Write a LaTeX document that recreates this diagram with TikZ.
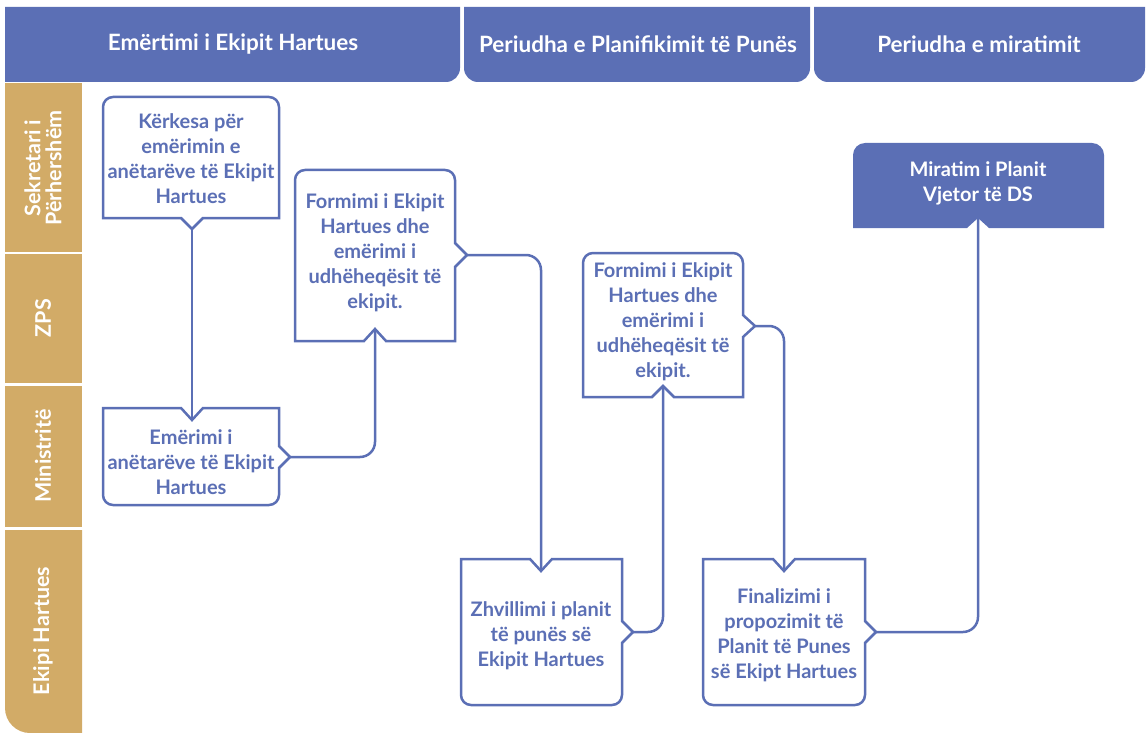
\documentclass[tikz,border=0pt]{standalone}
\usepackage{fontspec}
\setmainfont{Lato}
\definecolor{hblue}{RGB}{91,111,181}
\definecolor{lanetan}{RGB}{210,171,103}
\tikzset{
 hdr/.style={fill=hblue},
 hdrtext/.style={text=white, font=\bfseries\fontsize{22.5}{26}\selectfont},
 lanebox/.style={fill=lanetan},
 lanetext/.style={text=white, font=\bfseries\fontsize{21.5}{21}\selectfont, rotate=90, align=center},
 boxline/.style={draw=hblue, line width=2.5pt, line join=miter, fill=white},
 boxfill/.style={fill=hblue},
 boxtext/.style={text=hblue, font=\bfseries\fontsize{20}{25}\selectfont, align=center},
 boxtextw/.style={text=white, font=\bfseries\fontsize{20}{25}\selectfont, align=center},
 conn/.style={draw=hblue, line width=2.5pt, rounded corners=15pt},
}
\begin{document}
\begin{tikzpicture}[x=1pt,y=-1pt]
\useasboundingbox (0,0) rectangle (1146,733);
% headers
\fill[hdr] (5,7) -- (460,7) -- (460,68) arc[start angle=0,end angle=90,radius=14] -- (5,82) -- cycle;
\fill[hdr] (464,7) -- (810,7) -- (810,68) arc[start angle=0,end angle=90,radius=14] -- (478,82) arc[start angle=90,end angle=180,radius=14] -- cycle;
\fill[hdr] (814,7) -- (1145,7) -- (1145,68) arc[start angle=0,end angle=90,radius=14] -- (828,82) arc[start angle=90,end angle=180,radius=14] -- cycle;
\node[hdrtext] (h1) at (233,44) {Emërtimi i Ekipit Hartues};
\node[hdrtext] (h2) at (638,44) {Periudha e Planifikimit të Punës};
\node[hdrtext] (h3) at (979,44) {Periudha e miratimit};
% lanes
\fill[lanebox] (5,83) rectangle (82,252);
\fill[lanebox] (5,254) rectangle (82,383);
\fill[lanebox] (5,386) rectangle (82,527);
\fill[lanebox] (5,530) -- (82,530) -- (82,733) -- (30,733) arc[start angle=90,end angle=180,radius=25] -- cycle;
\node[lanetext] (l1) at (43,168) {Sekretari i\\Përhershëm};
\node[lanetext] (l2) at (43,318) {ZPS};
\node[lanetext] (l3) at (43,456) {Ministritë};
\node[lanetext] (l4) at (43,631) {Ekipi Hartues};
% notch tips
\coordinate (b1o) at (192,229);
\coordinate (b2i) at (192,420);
\coordinate (b2o) at (290,457);
\coordinate (b3i) at (375,329);
\coordinate (b3o) at (467,255);
\coordinate (b4i) at (541,571);
\coordinate (b4o) at (633,632);
\coordinate (b5i) at (663,386);
\coordinate (b5o) at (755,326);
\coordinate (b6i) at (784,571);
\coordinate (b6o) at (876,632);
\coordinate (b7i) at (978,218);
% box outlines
\draw[boxline] (b1o) -- (203,218) -- (279,218) -- (279,107) arc[start angle=0,end angle=-90,radius=10] -- (113,97) arc[start angle=-90,end angle=-180,radius=10] -- (103,218) -- (181,218) -- cycle;
\draw[boxline] (103,408) -- (181,408) -- (b2i) -- (203,408) -- (279,408) -- (279,446) -- (b2o) -- (279,468) -- (279,495) arc[start angle=0,end angle=90,radius=10] -- (113,505) arc[start angle=90,end angle=180,radius=10] -- cycle;
\draw[boxline] (295,341) -- (364,341) -- (b3i) -- (386,341) -- (455,341) -- (455,267) -- (b3o) -- (455,243) -- (455,180) arc[start angle=0,end angle=-90,radius=10] -- (305,170) arc[start angle=-90,end angle=-180,radius=10] -- cycle;
\draw[boxline] (461,559) -- (530,559) -- (b4i) -- (552,559) -- (622,559) -- (622,621) -- (b4o) -- (622,643) -- (622,695) arc[start angle=0,end angle=90,radius=10] -- (471,705) arc[start angle=90,end angle=180,radius=10] -- cycle;
\draw[boxline] (583,397) -- (652,397) -- (b5i) -- (674,397) -- (743,397) -- (743,337) -- (b5o) -- (743,315) -- (743,263) arc[start angle=0,end angle=-90,radius=10] -- (593,253) arc[start angle=-90,end angle=-180,radius=10] -- cycle;
\draw[boxline] (703,559) -- (773,559) -- (b6i) -- (795,559) -- (865,559) -- (865,621) -- (b6o) -- (865,643) -- (865,695) arc[start angle=0,end angle=90,radius=10] -- (713,705) arc[start angle=90,end angle=180,radius=10] -- cycle;
\fill[boxfill] (853,228) -- (967,228) -- (b7i) -- (989,228) -- (1104,228) -- (1104,155) arc[start angle=0,end angle=-90,radius=12] -- (865,143) arc[start angle=-90,end angle=-180,radius=12] -- cycle;
% box texts
\node[boxtext] (b1) at (191,159) {Kërkesa për\\emërimin e\\anëtarëve të Ekipit\\Hartues};
\node[boxtext] (b2) at (191,462) {Emërimi i\\anëtarëve të Ekipit\\Hartues};
\node[boxtext] (b3) at (375,253) {Formimi i Ekipit\\Hartues dhe\\emërimi i\\udhëheqësit të\\ekipit.};
\node[boxtext] (b4) at (541,636) {Zhvillimi i planit\\të punës së\\Ekipit Hartues};
\node[boxtext] (b5) at (663,322) {Formimi i Ekipit\\Hartues dhe\\emërimi i\\udhëheqësit të\\ekipit.};
\node[boxtext] (b6) at (784,635) {Finalizimi i\\propozimit të\\Planit të Punes\\së Ekipt Hartues};
\node[boxtextw] (b7) at (978,183) {Miratim i Planit\\Vjetor të DS};
% connectors
\draw[conn] (b1o) -- (b2i);
\draw[conn] (b2o) -| (b3i);
\draw[conn] (b3o) -| (b4i);
\draw[conn] (b4o) -| (b5i);
\draw[conn] (b5o) -| (b6i);
\draw[conn] (b6o) -| (b7i);
\end{tikzpicture}
\end{document}
